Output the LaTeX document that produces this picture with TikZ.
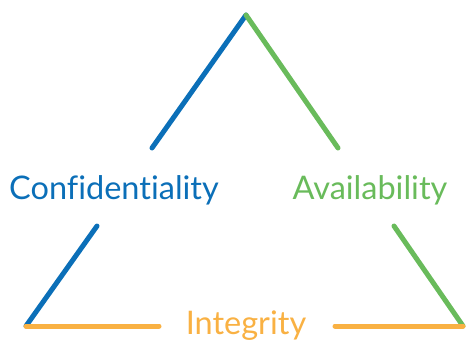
\documentclass[tikz,border=0pt]{standalone}
\usepackage{fontspec}
\setmainfont[Ligatures=NoCommon]{Lato}
\definecolor{cblue}{HTML}{0B6FB8}
\definecolor{cgreen}{HTML}{69BB5B}
\definecolor{corange}{HTML}{F9B143}
\begin{document}
\begin{tikzpicture}[x=1pt,y=-1pt,
  seg/.style={line width=5pt,line cap=round},
  lbl/.style={inner sep=0pt,anchor=base,font=\fontsize{32.5}{38}\selectfont}]
\useasboundingbox (0,0) rectangle (466,341);
\coordinate (top) at (246,15);
\coordinate (bl) at (26,326);
\coordinate (br) at (463,326);
\coordinate (b1) at (152,148);
\coordinate (b2) at (97,226);
\coordinate (g1) at (338,148);
\coordinate (g2) at (394,226);
\coordinate (o1) at (159,326);
\coordinate (o2) at (335,326);
\node[lbl,text=cblue] (conf) at (114,199) {Confidentiality};
\node[lbl,text=cgreen] (avail) at (370,199) {Availability};
\node[lbl,text=corange] (integ) at (246,334) {Integrity};
\draw[seg,cblue] (top) -- (b1);
\draw[seg,cblue] (b2) -- (bl);
\draw[seg,cgreen] (top) -- (g1);
\draw[seg,cgreen] (g2) -- (br);
\draw[seg,corange] (bl) -- (o1);
\draw[seg,corange] (o2) -- (br);
\end{tikzpicture}
\end{document}
